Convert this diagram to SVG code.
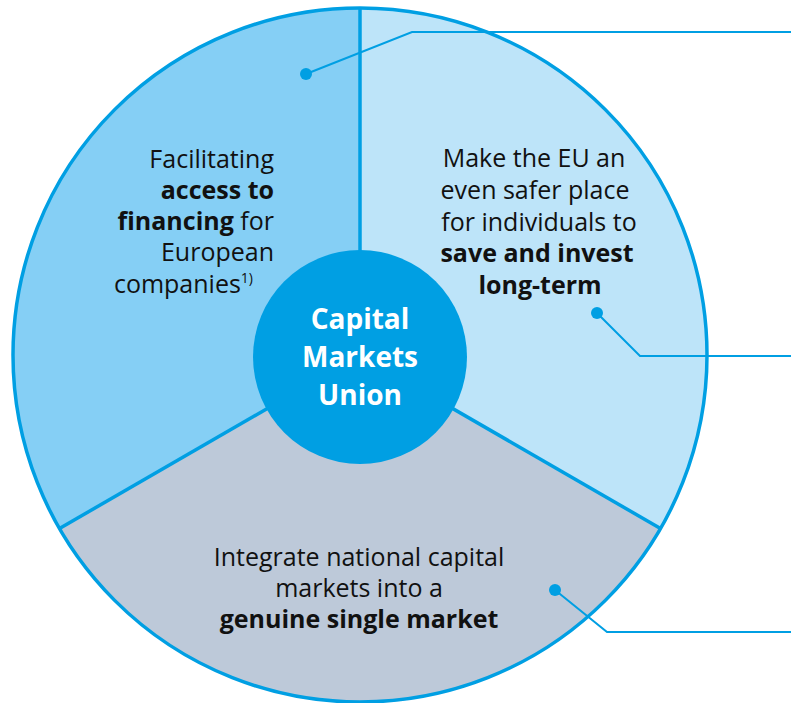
<svg xmlns="http://www.w3.org/2000/svg" width="791" height="703" viewBox="0 0 791 703">
<style>
.sec{stroke:none}
.div{stroke:#009FE3;stroke-width:3.5;fill:none}
.call{stroke:#009FE3;stroke-width:2;fill:none}
.dot{fill:#009FE3}
.t{font-family:"Open Sans","Noto Sans",sans-serif;font-size:25px;fill:#111}
.b{font-weight:bold}
.c{font-family:"Open Sans","Noto Sans",sans-serif;font-size:28px;font-weight:bold;fill:#fff;text-anchor:middle}
</style>
<rect width="791" height="703" fill="#fff"/>
<g id="sector-access">
<path class="sec" fill="#85CFF5" d="M360,355 L360,8 A347,347 0 0 0 59.5,528.5 Z"/>
<text class="t" text-anchor="end"><tspan x="274" y="168">Facilitating</tspan><tspan x="274" y="199" class="b">access to</tspan><tspan x="274" y="230"><tspan class="b">financing</tspan> for</tspan><tspan x="274" y="261">European</tspan><tspan x="253" y="293">companies<tspan font-size="14" dy="-10">1)</tspan></tspan></text>
</g>
<g id="sector-save">
<path class="sec" fill="#BDE4F9" d="M360,355 L360,8 A347,347 0 0 1 660.5,528.5 Z"/>
<text class="t" text-anchor="middle"><tspan x="534" y="167">Make the EU an</tspan><tspan x="535" y="199">even safer place</tspan><tspan x="539" y="231">for individuals to</tspan><tspan x="537" y="262" class="b">save and invest</tspan><tspan x="540" y="294" class="b">long-term</tspan></text>
</g>
<g id="sector-market">
<path class="sec" fill="#BDC9D9" d="M360,355 L59.5,528.5 A347,347 0 0 0 660.5,528.5 Z"/>
<text class="t" text-anchor="middle"><tspan x="359" y="566">Integrate national capital</tspan><tspan x="359" y="597">markets into a</tspan><tspan x="359" y="628" class="b">genuine single market</tspan></text>
</g>
<g id="dividers">
<circle class="div" cx="360" cy="355" r="347"/>
<line class="div" x1="360" y1="355" x2="360" y2="8"/>
<line class="div" x1="360" y1="355" x2="59.5" y2="528.5"/>
<line class="div" x1="360" y1="355" x2="660.5" y2="528.5"/>
</g>
<g id="center">
<circle cx="360" cy="357" r="107" fill="#009FE3"/>
<text class="c"><tspan x="360" y="329">Capital</tspan><tspan x="360" y="367">Markets</tspan><tspan x="360" y="405">Union</tspan></text>
</g>
<g id="connectors">
<polyline class="call" points="306,74 412,32 791,32"/>
<circle class="dot" cx="306" cy="74" r="6"/>
<polyline class="call" points="597,313 640,356 791,356"/>
<circle class="dot" cx="597" cy="313" r="6"/>
<polyline class="call" points="555,590 607,632 791,632"/>
<circle class="dot" cx="555" cy="590" r="6"/>
</g>
</svg>
